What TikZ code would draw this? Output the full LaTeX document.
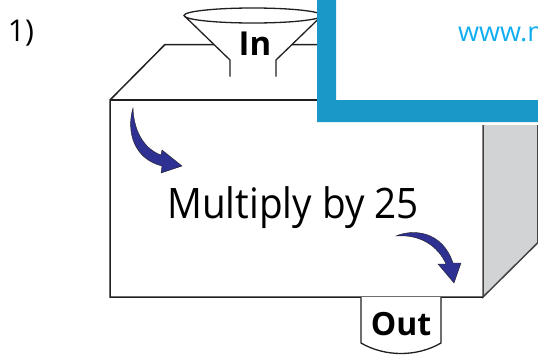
\documentclass[tikz,border=0pt]{standalone}
\usepackage{fontspec}
\setmainfont{Open Sans}
\newfontfamily\narrowfont[FakeStretch=0.92]{Open Sans}
\definecolor{panel}{HTML}{1A99C8}
\definecolor{web}{HTML}{12AEEF}
\definecolor{sidegray}{HTML}{D1D3D4}
\definecolor{arrowblue}{HTML}{2E3192}
\definecolor{ink}{HTML}{231F20}
\tikzset{
 edge/.style={draw=ink,line width=1.5pt,line join=miter},
 thin edge/.style={draw=ink,line width=1.3pt},
 curved/.style={fill=arrowblue,draw=ink,line width=0.4pt,line join=miter},
 lbl/.style={inner sep=0pt,text=black,anchor=base}
}
\begin{document}
\begin{tikzpicture}[x=1pt,y=-1pt]
\useasboundingbox (0,0) rectangle (538,354);
% side face
\path[fill=sidegray] (483,125) -- (537.5,125) -- (537.5,243) -- (483,297) -- cycle;
\draw[edge,draw=ink!85] (483,125) -- (483,297) -- (537.5,243);
\draw[thin edge,draw=ink!85,line width=1pt] (537.5,125) -- (537.5,243);
% box
\draw[edge] (320,44.5) -- (165,44.5) -- (110,100) -- (110,297) -- (483,297);
\draw[edge] (110,100) -- (320,100);
% funnel
\path[fill=white] (184,15) -- (230,60) -- (230,76) -- (276,76) -- (276,60) -- (322,15) -- cycle;
\draw[thin edge,fill=white] (253,15.5) ellipse [x radius=69,y radius=7.5];
\draw[thin edge] (184,15.5) -- (230,60) -- (230,76.5);
\draw[thin edge] (322,15.5) -- (276,60) -- (276,76.5);
\node[lbl,font=\bfseries\fontsize{33}{33}\selectfont] (in) at (255,55) {In};
% out tab
\draw[thin edge,fill=white] (361,297) -- (361,343) .. controls (385,357) and (417,357) .. (441,343) -- (441,297);
\node[lbl,font=\bfseries\fontsize{32}{32}\selectfont] (out) at (401,335) {Out};
% label
\node[lbl,font=\narrowfont\fontsize{42}{42}\selectfont] (mult) at (293,218) {Multiply by 25};
\node[lbl,font=\fontsize{30}{30}\selectfont] (one) at (21,41) {1)};
% arrows
\path[curved] (133,108) .. controls (126,132) and (134,159) .. (162,166) -- (161,173) -- (182,166) -- (162,150) -- (161,155) .. controls (147,150) and (134,135) .. (133,108) -- cycle;
\path[curved] (396,236) .. controls (412,229) and (442,230) .. (453,263) -- (461,263) -- (454,283) -- (438,264) -- (446,264) .. controls (438,246) and (420,234) .. (396,236) -- cycle;
% panel
\fill[panel] (317,0) -- (336,0) -- (336,100) -- (538,100) -- (538,122) -- (317,122) -- cycle;
\node[inner sep=0pt,anchor=base west,text=web,font=\fontsize{27}{27}\selectfont] (url) at (458,41) {www.m};
\end{tikzpicture}
\end{document}
